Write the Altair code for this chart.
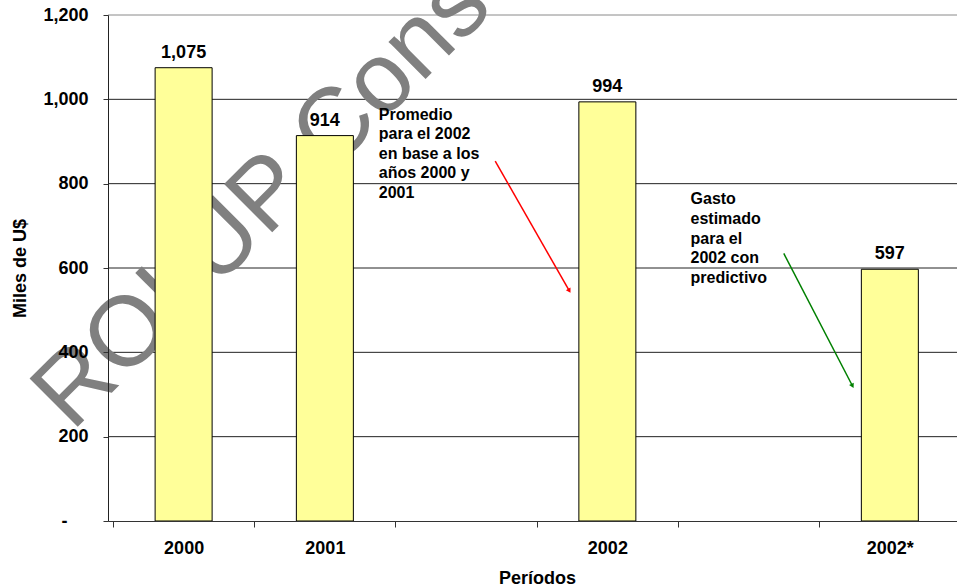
import altair as alt
import pandas as pd

# ---- data ----
periodos = ["2000", "2001", "", "2002", "", "2002*"]
valores = [1075, 914, None, 994, None, 597]
etiquetas = ["1,075", "914", "", "994", "", "597"]
y_ticks = [0, 200, 400, 600, 800, 1000, 1200]

notas = ["Promedio\npara el 2002\nen base a los\naños 2000 y\n2001",
         "Gasto\nestimado\npara el\n2002 con\npredictivo"]
nota_x = [1.882, 4.089]
nota_y = [952, 751]

flecha_x = [2.706, 4.749]
flecha_y = [853.5, 634.5]
flecha_x2 = [3.228, 5.233]
flecha_y2 = [547.4, 322.0]
flecha_color = ["#FF0000", "#008000"]
flecha_angulo = [150, 152]

marca = ["ROI UP Consulting"]
marca_x = [-0.29]
marca_y = [210]

FONT = "Liberation Sans, Arial, sans-serif"

# ---- tables ----
bars = pd.DataFrame({
    "pos": [i + 0.5 for i in range(len(periodos))],
    "periodo": periodos,
    "valor": valores,
    "etiqueta": etiquetas,
}).dropna(subset=["valor"])

grid_df = pd.DataFrame({"v": [t for t in y_ticks if t > 0]})
notes_df = pd.DataFrame({"x": nota_x, "y": nota_y, "t": notas})
arrows_df = pd.DataFrame({"x": flecha_x, "y": flecha_y, "x2": flecha_x2,
                          "y2": flecha_y2, "c": flecha_color, "a": flecha_angulo})
mark_df = pd.DataFrame({"x": marca_x, "y": marca_y, "t": marca})

xs = alt.Scale(domain=[0, 5.94], nice=False, zero=False)
ys = alt.Scale(domain=[0, 1200], nice=False, zero=False)

label_expr = " : ".join(
    f"datum.value == {i + 0.5} ? '{p}'" for i, p in enumerate(periodos) if p
) + " : ''"

x_axis = alt.Axis(
    values=[k * 0.5 for k in range(2 * len(periodos))],
    labelExpr=label_expr,
    tickColor=alt.condition("datum.value % 1 == 0", alt.value("#333333"), alt.value("transparent")),
    tickSize=6, labelPadding=12, labelOverlap=False, labelFlush=False,
    labelFont=FONT, labelFontSize=18, labelFontWeight="bold", labelColor="black",
    domainColor="#333333", grid=False, zindex=1,
    title="Períodos", titleFont=FONT, titleFontSize=18, titleFontWeight="bold",
    titleColor="black", titleX=429, titleY=62, titleAlign="center",
    titleBaseline="alphabetic", titleAnchor="middle",
)

y_axis = alt.Axis(
    values=y_ticks,
    labelExpr="datum.value == 0 ? '-' : format(datum.value, ',')",
    tickSize=5,
    labelPadding=alt.condition("datum.value == 0", alt.value(36), alt.value(15)),
    tickColor="#333333",
    labelFont=FONT, labelFontSize=18, labelFontWeight="bold", labelColor="black",
    domainColor="#222222", grid=False, zindex=1,
    title="Miles de U$", titleFont=FONT, titleFontSize=18, titleFontWeight="bold",
    titleColor="black", titleX=-88, titleY=253, titleAngle=270, titleAlign="center",
    titleBaseline="middle",
)

# horizontal grid rules spanning the plot
grid_layer = alt.Chart(grid_df).mark_rule(strokeWidth=1).encode(
    y=alt.Y("v:Q", scale=ys, axis=y_axis, title="Miles de U$"),
    color=alt.condition("datum.v == 1200", alt.value("#8a8a8a"), alt.value("#222222")),
)

watermark = alt.Chart(mark_df).mark_text(
    font=FONT, fontSize=99, color="#808080", angle=315, align="left",
    baseline="alphabetic"
).encode(
    x=alt.X("x:Q", scale=xs, axis=x_axis, title="Períodos"),
    y=alt.Y("y:Q", scale=ys),
    text="t:N",
)

bar_layer = alt.Chart(bars).mark_bar(
    size=57, color="#FFFF99", stroke="black", strokeWidth=1
).encode(
    x=alt.X("pos:Q", scale=xs),
    y=alt.Y("valor:Q", scale=ys),
)

value_labels = alt.Chart(bars).mark_text(
    dy=-10, baseline="alphabetic", font=FONT, fontSize=18, fontWeight="bold", color="black"
).encode(
    x=alt.X("pos:Q", scale=xs),
    y=alt.Y("valor:Q", scale=ys),
    text="etiqueta:N",
)

notes_layer = alt.Chart(notes_df).mark_text(
    align="left", baseline="alphabetic", lineBreak="\n", lineHeight=19.6,
    font=FONT, fontSize=16, fontWeight="bold", color="black"
).encode(
    x=alt.X("x:Q", scale=xs),
    y=alt.Y("y:Q", scale=ys),
    text="t:N",
)

arrow_lines = alt.Chart(arrows_df).mark_rule(strokeWidth=1.5).encode(
    x=alt.X("x:Q", scale=xs), y=alt.Y("y:Q", scale=ys),
    x2="x2:Q", y2="y2:Q",
    color=alt.Color("c:N", scale=None),
)

arrow_heads = alt.Chart(arrows_df).mark_point(
    shape="triangle", filled=True, size=28, opacity=1
).encode(
    x=alt.X("x2:Q", scale=xs), y=alt.Y("y2:Q", scale=ys),
    color=alt.Color("c:N", scale=None),
    angle=alt.Angle("a:Q", scale=None),
)

chart = alt.layer(
    grid_layer, watermark, bar_layer, value_labels, notes_layer, arrow_lines, arrow_heads
).properties(
    width=849, height=506,
    autosize=alt.AutoSizeParams(type="none"),
    padding={"left": 108, "top": 15, "right": 0, "bottom": 67},
    background="white",
).configure_view(stroke=None)

chart.save("out.html", embed_options={"renderer": "svg", "actions": False})
